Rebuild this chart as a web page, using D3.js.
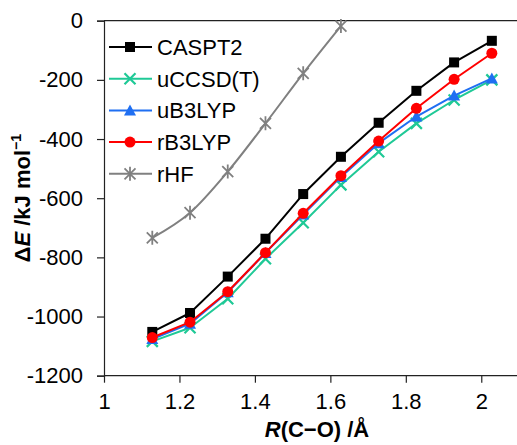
<!DOCTYPE html>
<html>
<head>
<meta charset="utf-8">
<script src="https://cdn.jsdelivr.net/npm/d3@7"></script>
<style>
  body { margin: 0; background: #fff; }
  svg { display: block; font-family: 'Liberation Sans', Arial, sans-serif; }
</style>
</head>
<body>
<div id="chart"></div>
<script>
// C-O distance (Å) for each scan point
const rLen   = [1.128, 1.228, 1.328, 1.428, 1.528, 1.628, 1.728, 1.828, 1.928, 2.028]
const caspt2 = [-1052, -988, -865, -737, -586, -460, -345, -237, -141, -68]
const uccsdt = [-1084, -1038, -940, -805, -683, -555, -443, -347, -268, -200]
const ub3lyp = [-1076, -1024, -918, -785, -655, -528, -414, -324, -253, -195]
const rb3lyp = [-1071, -1019, -916, -784, -651, -524, -407, -296, -198, -110]
const rhf    = [-734, -649, -510, -347, -178, -18]

const seriesNames = ['CASPT2', 'uCCSD(T)', 'uB3LYP', 'rB3LYP', 'rHF']
const xTicks = [1, 1.2, 1.4, 1.6, 1.8, 2]
const yTicks = [0, -200, -400, -600, -800, -1000, -1200]

const width = 517, height = 445
const margin = { left: 104, top: 20.7, right: 0, bottom: 69.3 }
const fontSize = 22

const series = [
  { name: seriesNames[0], values: caspt2, color: '#000000', marker: 'square' },
  { name: seriesNames[1], values: uccsdt, color: '#1fc996', marker: 'x' },
  { name: seriesNames[2], values: ub3lyp, color: '#1f6ff2', marker: 'triangle' },
  { name: seriesNames[3], values: rb3lyp, color: '#ff0000', marker: 'circle' },
  { name: seriesNames[4], values: rhf,    color: '#808080', marker: 'star', smooth: true }
]

const svg = d3.select('#chart').append('svg')
  .attr('width', width)
  .attr('height', height)

const x = d3.scaleLinear().domain([1, 2.1]).range([margin.left, margin.left + 415])
const y = d3.scaleLinear().domain([-1200, 0]).range([height - margin.bottom, margin.top])

// top line at 0
svg.append('line')
  .attr('x1', x(1)).attr('x2', width)
  .attr('y1', y(0)).attr('y2', y(0))
  .attr('stroke', '#222').attr('stroke-width', 1.2)

// axes
const yAxis = svg.append('g')
  .attr('transform', `translate(${x(1)},0)`)
  .call(d3.axisLeft(y).tickValues(yTicks).tickSize(7).tickPadding(14).tickFormat(d => String(d)))
const xAxis = svg.append('g')
  .attr('transform', `translate(0,${y(-1200)})`)
  .call(d3.axisBottom(x).tickValues(xTicks).tickSize(7).tickPadding(11).tickFormat(d => d))

;[xAxis, yAxis].forEach(g => {
  g.select('.domain').attr('stroke', '#222').attr('stroke-width', 1.2)
  g.selectAll('.tick line').attr('stroke', '#222').attr('stroke-width', 1.2)
  g.selectAll('.tick text')
    .attr('font-size', fontSize)
    .attr('font-family', "'Liberation Sans', Arial, sans-serif")
    .attr('fill', '#000')
})
xAxis.select('.domain').attr('d', `M${x(1)},0H${width}`)

// marker painter
const drawMarker = (g, type, color) => {
  if (type === 'square') {
    g.append('rect').attr('x', -5).attr('y', -5).attr('width', 10).attr('height', 10).attr('fill', color)
  } else if (type === 'circle') {
    g.append('circle').attr('r', 5.5).attr('fill', color)
  } else if (type === 'triangle') {
    g.append('path').attr('d', 'M0,-6L6,5L-6,5Z').attr('fill', color)
  } else if (type === 'x') {
    g.append('path').attr('d', 'M-5.5,-5.5L5.5,5.5M-5.5,5.5L5.5,-5.5')
      .attr('stroke', color).attr('stroke-width', 2.2).attr('fill', 'none')
  } else if (type === 'star') {
    g.append('path').attr('d', 'M-5.5,-5.5L5.5,5.5M-5.5,5.5L5.5,-5.5M0,-7V7')
      .attr('stroke', color).attr('stroke-width', 1.8).attr('fill', 'none')
  }
}

const straight = d3.line().x(d => x(d[0])).y(d => y(d[1]))
const smooth = d3.line().x(d => x(d[0])).y(d => y(d[1])).curve(d3.curveMonotoneX)

series.forEach(s => {
  const pts = s.values.map((v, i) => [rLen[i], v])
  svg.append('path')
    .datum(pts)
    .attr('fill', 'none')
    .attr('stroke', s.color)
    .attr('stroke-width', 2)
    .attr('stroke-linejoin', 'round')
    .attr('d', s.smooth ? smooth : straight)
  pts.forEach(p => {
    const g = svg.append('g').attr('transform', `translate(${x(p[0])},${y(p[1])})`)
    drawMarker(g, s.marker, s.color)
  })
})

// legend
const legend = svg.append('g')
series.forEach((s, i) => {
  const ly = 47 + i * 31.7
  const g = legend.append('g').attr('transform', `translate(0,${ly})`)
  g.append('line').attr('x1', 109).attr('x2', 152).attr('y1', 0).attr('y2', 0)
    .attr('stroke', s.color).attr('stroke-width', 2)
  drawMarker(g.append('g').attr('transform', 'translate(130,0)'), s.marker, s.color)
  g.append('text')
    .attr('x', 157).attr('y', 0).attr('dy', '0.36em')
    .attr('font-size', fontSize).attr('fill', '#000')
    .text(s.name)
})

// axis titles
const yTitle = svg.append('text')
  .attr('transform', `translate(30,${y(-600)}) rotate(-90)`)
  .attr('text-anchor', 'middle')
  .attr('font-size', fontSize).attr('font-weight', 'bold')
yTitle.append('tspan').text('Δ')
yTitle.append('tspan').attr('font-style', 'italic').text('E')
yTitle.append('tspan').text(' /kJ mol')
yTitle.append('tspan').attr('font-size', 14).attr('dy', -9).text('−1')

const xTitle = svg.append('text')
  .attr('x', 317).attr('y', 437)
  .attr('text-anchor', 'middle')
  .attr('font-size', fontSize).attr('font-weight', 'bold')
xTitle.append('tspan').attr('font-style', 'italic').text('R')
xTitle.append('tspan').text('(C−O) /Å')
</script>
</body>
</html>
